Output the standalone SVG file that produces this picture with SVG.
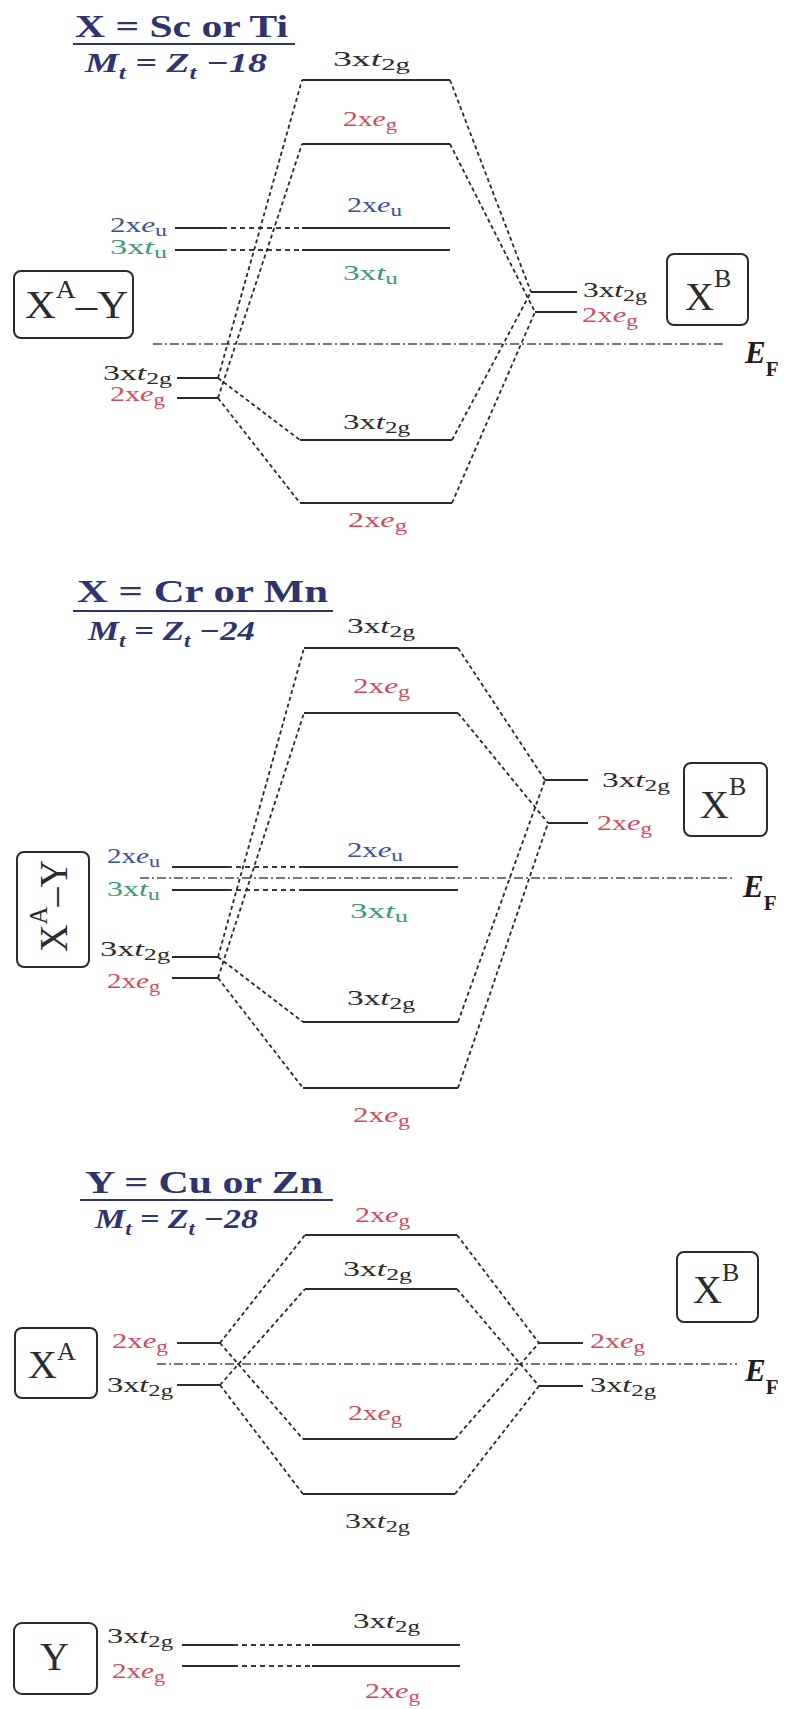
<svg xmlns="http://www.w3.org/2000/svg" width="787" height="1709" viewBox="0 0 787 1709">
<style>
.lv{stroke:#2b2b2b;stroke-width:2;fill:none}
.cn{stroke:#2a2a2a;stroke-width:1.8;stroke-dasharray:4 3;fill:none}
.hd{stroke:#3a3a3a;stroke-width:1.8;stroke-dasharray:5 4;fill:none}
.ef{stroke:#777;stroke-width:1.8;stroke-dasharray:9 3 2 3;fill:none}
.bx{fill:none;stroke:#2b2b2b;stroke-width:2}
.ul{stroke:#2f3470;stroke-width:2.2}
text{font-family:"Liberation Serif","Times New Roman",serif}
.l{font-size:21px}
.k{fill:#2b2b2b}.r{fill:#d24a5e}.b{fill:#3f4f98}.g{fill:#3a9a7e}
.i{font-style:italic}
.s{font-size:16px}
.t{font-size:32px;font-weight:bold;fill:#2f3470}
.f{font-size:27px;font-weight:bold;font-style:italic;fill:#2f3470}
.bt{font-size:40px;fill:#2b2b2b}
.e{font-size:31px;font-weight:bold;font-style:italic;fill:#1e1e1e}
</style>
<rect width="787" height="1709" fill="#fff"/>

<!-- ================= PANEL 1 ================= -->
<g id="p1-title">
<text class="t" x="75" y="37" textLength="213" lengthAdjust="spacingAndGlyphs">X = Sc or Ti</text>
<line class="ul" x1="73" y1="44" x2="295" y2="44"/>
<text class="f" x="85" y="72" textLength="182" lengthAdjust="spacingAndGlyphs">M<tspan font-size="18" dy="7">t</tspan><tspan dy="-7"> = Z</tspan><tspan font-size="18" dy="7">t</tspan><tspan dy="-7"> −18</tspan></text>
</g>
<g id="p1-ab-t2g"><line class="lv" x1="302" y1="80" x2="450" y2="80"/>
<text class="l k" x="333" y="66" textLength="77" lengthAdjust="spacingAndGlyphs">3x<tspan class="i">t</tspan><tspan class="s" dy="4">2g</tspan></text></g>
<g id="p1-ab-eg"><line class="lv" x1="302" y1="144" x2="450" y2="144"/>
<text class="l r" x="343" y="126" textLength="54" lengthAdjust="spacingAndGlyphs">2x<tspan class="i">e</tspan><tspan class="s" dy="4">g</tspan></text></g>
<g id="p1-eu"><line class="lv" x1="175" y1="228" x2="222" y2="228"/><line class="hd" x1="222" y1="228" x2="302" y2="228"/><line class="lv" x1="302" y1="228" x2="450" y2="228"/>
<text class="l b" x="347" y="212" textLength="55" lengthAdjust="spacingAndGlyphs">2x<tspan class="i">e</tspan><tspan class="s" dy="4">u</tspan></text>
<text class="l b" x="110" y="232" textLength="57" lengthAdjust="spacingAndGlyphs">2x<tspan class="i">e</tspan><tspan class="s" dy="4">u</tspan></text></g>
<g id="p1-tu"><line class="lv" x1="175" y1="250" x2="222" y2="250"/><line class="hd" x1="222" y1="250" x2="302" y2="250"/><line class="lv" x1="302" y1="250" x2="450" y2="250"/>
<text class="l g" x="343" y="280" textLength="55" lengthAdjust="spacingAndGlyphs">3x<tspan class="i">t</tspan><tspan class="s" dy="4">u</tspan></text>
<text class="l g" x="110" y="254" textLength="57" lengthAdjust="spacingAndGlyphs">3x<tspan class="i">t</tspan><tspan class="s" dy="4">u</tspan></text></g>
<g id="p1-xay"><rect class="bx" x="14" y="271" width="119" height="67" rx="7"/>
<text class="bt" x="25" y="318" textLength="103" lengthAdjust="spacingAndGlyphs">X<tspan font-size="26" dy="-20">A</tspan><tspan dy="20">–Y</tspan></text></g>
<g id="p1-ef"><line class="ef" x1="153" y1="344" x2="723" y2="344"/>
<text class="e" x="745" y="363">E<tspan font-style="normal" font-size="21" dy="13">F</tspan></text></g>
<g id="p1-a-t2g"><line class="lv" x1="177" y1="378" x2="218" y2="378"/>
<text class="l k" x="103" y="380" textLength="69" lengthAdjust="spacingAndGlyphs">3x<tspan class="i">t</tspan><tspan class="s" dy="4">2g</tspan></text></g>
<g id="p1-a-eg"><line class="lv" x1="177" y1="398" x2="218" y2="398"/>
<text class="l r" x="110" y="401" textLength="55" lengthAdjust="spacingAndGlyphs">2x<tspan class="i">e</tspan><tspan class="s" dy="4">g</tspan></text></g>
<g id="p1-b-t2g"><line class="lv" x1="300" y1="440" x2="452" y2="440"/>
<text class="l k" x="343" y="429" textLength="67" lengthAdjust="spacingAndGlyphs">3x<tspan class="i">t</tspan><tspan class="s" dy="4">2g</tspan></text></g>
<g id="p1-b-eg"><line class="lv" x1="300" y1="503" x2="452" y2="503"/>
<text class="l r" x="348" y="527" textLength="59" lengthAdjust="spacingAndGlyphs">2x<tspan class="i">e</tspan><tspan class="s" dy="4">g</tspan></text></g>
<g id="p1-xb-t2g"><line class="lv" x1="531" y1="292" x2="577" y2="292"/>
<text class="l k" x="583" y="297" textLength="64" lengthAdjust="spacingAndGlyphs">3x<tspan class="i">t</tspan><tspan class="s" dy="4">2g</tspan></text></g>
<g id="p1-xb-eg"><line class="lv" x1="535" y1="312" x2="577" y2="312"/>
<text class="l r" x="582" y="322" textLength="56" lengthAdjust="spacingAndGlyphs">2x<tspan class="i">e</tspan><tspan class="s" dy="4">g</tspan></text></g>
<g id="p1-xb"><rect class="bx" x="667" y="254" width="81" height="71" rx="7"/>
<text class="bt" x="685" y="310">X<tspan font-size="26" dy="-23">B</tspan></text></g>

<!-- ================= PANEL 2 ================= -->
<g id="p2-title">
<text class="t" x="77" y="602" textLength="251" lengthAdjust="spacingAndGlyphs">X = Cr or Mn</text>
<line class="ul" x1="73" y1="611" x2="333" y2="611"/>
<text class="f" x="88" y="640" textLength="167" lengthAdjust="spacingAndGlyphs">M<tspan font-size="18" dy="7">t</tspan><tspan dy="-7"> = Z</tspan><tspan font-size="18" dy="7">t</tspan><tspan dy="-7"> −24</tspan></text>
</g>
<g id="p2-ab-t2g"><line class="lv" x1="304" y1="648" x2="458" y2="648"/>
<text class="l k" x="347" y="633" textLength="68" lengthAdjust="spacingAndGlyphs">3x<tspan class="i">t</tspan><tspan class="s" dy="4">2g</tspan></text></g>
<g id="p2-ab-eg"><line class="lv" x1="304" y1="713" x2="458" y2="713"/>
<text class="l r" x="353" y="693" textLength="57" lengthAdjust="spacingAndGlyphs">2x<tspan class="i">e</tspan><tspan class="s" dy="4">g</tspan></text></g>
<g id="p2-xb-t2g"><line class="lv" x1="545" y1="780" x2="588" y2="780"/>
<text class="l k" x="602" y="787" textLength="68" lengthAdjust="spacingAndGlyphs">3x<tspan class="i">t</tspan><tspan class="s" dy="4">2g</tspan></text></g>
<g id="p2-xb-eg"><line class="lv" x1="548" y1="823" x2="588" y2="823"/>
<text class="l r" x="597" y="830" textLength="55" lengthAdjust="spacingAndGlyphs">2x<tspan class="i">e</tspan><tspan class="s" dy="4">g</tspan></text></g>
<g id="p2-xb"><rect class="bx" x="684" y="763" width="83" height="73" rx="7"/>
<text class="bt" x="700" y="818">X<tspan font-size="26" dy="-23">B</tspan></text></g>
<g id="p2-xay"><rect class="bx" x="17" y="852" width="72" height="115" rx="7"/>
<text class="bt" transform="translate(67,952) rotate(-90)" textLength="92" lengthAdjust="spacingAndGlyphs">X<tspan font-size="26" dy="-20">A</tspan><tspan dy="20">–Y</tspan></text></g>
<g id="p2-eu"><line class="lv" x1="172" y1="867" x2="227" y2="867"/><line class="hd" x1="227" y1="867" x2="304" y2="867"/><line class="lv" x1="304" y1="867" x2="458" y2="867"/>
<text class="l b" x="347" y="857" textLength="56" lengthAdjust="spacingAndGlyphs">2x<tspan class="i">e</tspan><tspan class="s" dy="4">u</tspan></text>
<text class="l b" x="107" y="863" textLength="53" lengthAdjust="spacingAndGlyphs">2x<tspan class="i">e</tspan><tspan class="s" dy="4">u</tspan></text></g>
<g id="p2-tu"><line class="lv" x1="172" y1="890" x2="227" y2="890"/><line class="hd" x1="227" y1="890" x2="304" y2="890"/><line class="lv" x1="304" y1="890" x2="458" y2="890"/>
<text class="l g" x="350" y="918" textLength="58" lengthAdjust="spacingAndGlyphs">3x<tspan class="i">t</tspan><tspan class="s" dy="4">u</tspan></text>
<text class="l g" x="107" y="896" textLength="53" lengthAdjust="spacingAndGlyphs">3x<tspan class="i">t</tspan><tspan class="s" dy="4">u</tspan></text></g>
<g id="p2-ef"><line class="ef" x1="140" y1="878" x2="733" y2="878"/>
<text class="e" x="743" y="897">E<tspan font-style="normal" font-size="21" dy="13">F</tspan></text></g>
<g id="p2-a-t2g"><line class="lv" x1="172" y1="957" x2="218" y2="957"/>
<text class="l k" x="100" y="956" textLength="70" lengthAdjust="spacingAndGlyphs">3x<tspan class="i">t</tspan><tspan class="s" dy="4">2g</tspan></text></g>
<g id="p2-a-eg"><line class="lv" x1="172" y1="978" x2="218" y2="978"/>
<text class="l r" x="107" y="988" textLength="53" lengthAdjust="spacingAndGlyphs">2x<tspan class="i">e</tspan><tspan class="s" dy="4">g</tspan></text></g>
<g id="p2-b-t2g"><line class="lv" x1="303" y1="1022" x2="458" y2="1022"/>
<text class="l k" x="347" y="1005" textLength="68" lengthAdjust="spacingAndGlyphs">3x<tspan class="i">t</tspan><tspan class="s" dy="4">2g</tspan></text></g>
<g id="p2-b-eg"><line class="lv" x1="303" y1="1088" x2="458" y2="1088"/>
<text class="l r" x="353" y="1122" textLength="57" lengthAdjust="spacingAndGlyphs">2x<tspan class="i">e</tspan><tspan class="s" dy="4">g</tspan></text></g>

<!-- ================= PANEL 3 ================= -->
<g id="p3-title">
<text class="t" x="85" y="1193" textLength="238" lengthAdjust="spacingAndGlyphs">Y = Cu or Zn</text>
<line class="ul" x1="80" y1="1200" x2="333" y2="1200"/>
<text class="f" x="95" y="1228" textLength="163" lengthAdjust="spacingAndGlyphs">M<tspan font-size="18" dy="7">t</tspan><tspan dy="-7"> = Z</tspan><tspan font-size="18" dy="7">t</tspan><tspan dy="-7"> −28</tspan></text>
</g>
<g id="p3-ab-eg"><line class="lv" x1="305" y1="1235" x2="457" y2="1235"/>
<text class="l r" x="355" y="1222" textLength="55" lengthAdjust="spacingAndGlyphs">2x<tspan class="i">e</tspan><tspan class="s" dy="4">g</tspan></text></g>
<g id="p3-ab-t2g"><line class="lv" x1="305" y1="1289" x2="457" y2="1289"/>
<text class="l k" x="343" y="1276" textLength="69" lengthAdjust="spacingAndGlyphs">3x<tspan class="i">t</tspan><tspan class="s" dy="4">2g</tspan></text></g>
<g id="p3-xb"><rect class="bx" x="677" y="1252" width="81" height="70" rx="7"/>
<text class="bt" x="693" y="1303">X<tspan font-size="26" dy="-22">B</tspan></text></g>
<g id="p3-xa"><rect class="bx" x="15" y="1328" width="82" height="70" rx="7"/>
<text class="bt" x="28" y="1378">X<tspan font-size="26" dy="-18">A</tspan></text></g>
<g id="p3-a-eg"><line class="lv" x1="177" y1="1343" x2="220" y2="1343"/>
<text class="l r" x="112" y="1348" textLength="56" lengthAdjust="spacingAndGlyphs">2x<tspan class="i">e</tspan><tspan class="s" dy="4">g</tspan></text></g>
<g id="p3-a-t2g"><line class="lv" x1="177" y1="1385" x2="220" y2="1385"/>
<text class="l k" x="107" y="1392" textLength="66" lengthAdjust="spacingAndGlyphs">3x<tspan class="i">t</tspan><tspan class="s" dy="4">2g</tspan></text></g>
<g id="p3-ef"><line class="ef" x1="157" y1="1364" x2="737" y2="1364"/>
<text class="e" x="745" y="1381">E<tspan font-style="normal" font-size="21" dy="13">F</tspan></text></g>
<g id="p3-xb-eg"><line class="lv" x1="539" y1="1343" x2="583" y2="1343"/>
<text class="l r" x="590" y="1348" textLength="55" lengthAdjust="spacingAndGlyphs">2x<tspan class="i">e</tspan><tspan class="s" dy="4">g</tspan></text></g>
<g id="p3-xb-t2g"><line class="lv" x1="539" y1="1386" x2="583" y2="1386"/>
<text class="l k" x="590" y="1392" textLength="66" lengthAdjust="spacingAndGlyphs">3x<tspan class="i">t</tspan><tspan class="s" dy="4">2g</tspan></text></g>
<g id="p3-b-eg"><line class="lv" x1="303" y1="1439" x2="455" y2="1439"/>
<text class="l r" x="348" y="1420" textLength="54" lengthAdjust="spacingAndGlyphs">2x<tspan class="i">e</tspan><tspan class="s" dy="4">g</tspan></text></g>
<g id="p3-b-t2g"><line class="lv" x1="303" y1="1494" x2="455" y2="1494"/>
<text class="l k" x="345" y="1528" textLength="65" lengthAdjust="spacingAndGlyphs">3x<tspan class="i">t</tspan><tspan class="s" dy="4">2g</tspan></text></g>

<!-- ================= PANEL 4 ================= -->
<g id="p4-y"><rect class="bx" x="14" y="1623" width="83" height="71" rx="8"/>
<text class="bt" x="40" y="1670">Y</text></g>
<g id="p4-t2g"><line class="lv" x1="182" y1="1645" x2="233" y2="1645"/><line class="hd" x1="233" y1="1645" x2="312" y2="1645"/><line class="lv" x1="312" y1="1645" x2="460" y2="1645"/>
<text class="l k" x="107" y="1643" textLength="66" lengthAdjust="spacingAndGlyphs">3x<tspan class="i">t</tspan><tspan class="s" dy="4">2g</tspan></text>
<text class="l k" x="353" y="1628" textLength="67" lengthAdjust="spacingAndGlyphs">3x<tspan class="i">t</tspan><tspan class="s" dy="4">2g</tspan></text></g>
<g id="p4-eg"><line class="lv" x1="182" y1="1666" x2="233" y2="1666"/><line class="hd" x1="233" y1="1666" x2="312" y2="1666"/><line class="lv" x1="312" y1="1666" x2="460" y2="1666"/>
<text class="l r" x="112" y="1678" textLength="53" lengthAdjust="spacingAndGlyphs">2x<tspan class="i">e</tspan><tspan class="s" dy="4">g</tspan></text>
<text class="l r" x="365" y="1698" textLength="55" lengthAdjust="spacingAndGlyphs">2x<tspan class="i">e</tspan><tspan class="s" dy="4">g</tspan></text></g>

<!-- ================= CONNECTORS ================= -->
<g id="connectors">
<line class="cn" x1="218" y1="378" x2="302" y2="80"/>
<line class="cn" x1="218" y1="398" x2="302" y2="144"/>
<line class="cn" x1="218" y1="378" x2="300" y2="440"/>
<line class="cn" x1="218" y1="398" x2="300" y2="503"/>
<line class="cn" x1="450" y1="80" x2="531" y2="292"/>
<line class="cn" x1="450" y1="144" x2="535" y2="312"/>
<line class="cn" x1="452" y1="440" x2="531" y2="292"/>
<line class="cn" x1="452" y1="503" x2="535" y2="312"/>

<line class="cn" x1="218" y1="957" x2="304" y2="648"/>
<line class="cn" x1="218" y1="978" x2="304" y2="713"/>
<line class="cn" x1="218" y1="957" x2="303" y2="1022"/>
<line class="cn" x1="218" y1="978" x2="303" y2="1088"/>
<line class="cn" x1="458" y1="648" x2="545" y2="780"/>
<line class="cn" x1="458" y1="713" x2="548" y2="823"/>
<line class="cn" x1="458" y1="1022" x2="545" y2="780"/>
<line class="cn" x1="458" y1="1088" x2="548" y2="823"/>

<line class="cn" x1="220" y1="1343" x2="305" y2="1235"/>
<line class="cn" x1="220" y1="1385" x2="305" y2="1289"/>
<line class="cn" x1="220" y1="1343" x2="303" y2="1439"/>
<line class="cn" x1="220" y1="1385" x2="303" y2="1494"/>
<line class="cn" x1="457" y1="1235" x2="539" y2="1343"/>
<line class="cn" x1="457" y1="1289" x2="539" y2="1386"/>
<line class="cn" x1="455" y1="1439" x2="539" y2="1343"/>
<line class="cn" x1="455" y1="1494" x2="539" y2="1386"/>
</g>
</svg>
